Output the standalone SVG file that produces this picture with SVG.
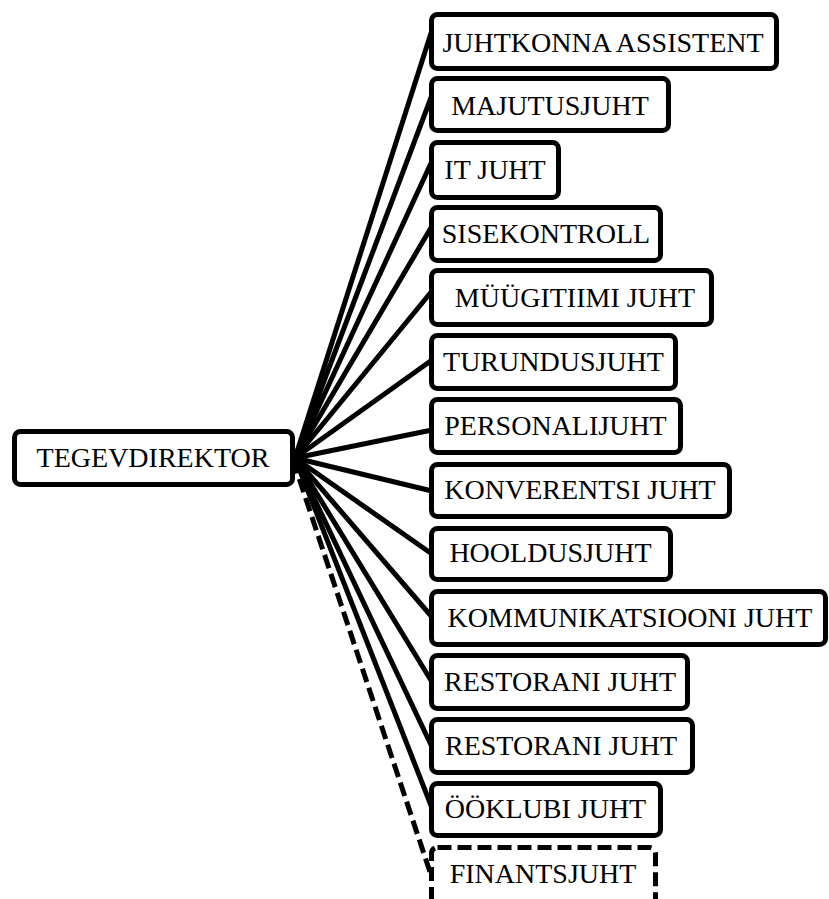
<svg xmlns="http://www.w3.org/2000/svg" width="829" height="899" viewBox="0 0 829 899">
  <style>
    .box { fill: #fff; stroke: #000; stroke-width: 5; }
    .dashed { stroke-dasharray: 14 6; }
    .lbl { font-family: "Liberation Serif", "Times New Roman", serif; font-size: 28px; fill: #000; text-anchor: middle; }
    .link { stroke: #000; stroke-width: 5; fill: none; stroke-linecap: butt; }
  </style>
  <rect width="829" height="899" fill="#fff"/>

  <!-- connectors fanning out from the director -->
  <g id="connectors">
    <line class="link" x1="295" y1="458" x2="432" y2="30"/>
    <line class="link" x1="295" y1="458" x2="432" y2="95"/>
    <line class="link" x1="295" y1="458" x2="432" y2="161"/>
    <line class="link" x1="295" y1="458" x2="432" y2="226"/>
    <line class="link" x1="295" y1="458" x2="432" y2="291"/>
    <line class="link" x1="295" y1="458" x2="432" y2="360"/>
    <line class="link" x1="295" y1="458" x2="432" y2="430"/>
    <line class="link" x1="295" y1="458" x2="432" y2="491"/>
    <line class="link" x1="295" y1="458" x2="432" y2="554"/>
    <line class="link" x1="295" y1="458" x2="432" y2="617"/>
    <line class="link" x1="295" y1="458" x2="432" y2="682"/>
    <line class="link" x1="295" y1="458" x2="432" y2="747"/>
    <line class="link" x1="295" y1="458" x2="432" y2="808"/>
    <line class="link dashed" x1="293" y1="460" x2="430" y2="872"/>
  </g>

  <g id="tegevdirektor">
    <rect class="box" x="14.5" y="431.5" width="278" height="53" rx="6"/>
    <text class="lbl" x="153" y="467">TEGEVDIREKTOR</text>
  </g>

  <g id="juhtkonna-assistent">
    <rect class="box" x="431.5" y="14.5" width="345" height="54" rx="6"/>
    <text class="lbl" x="603" y="52">JUHTKONNA ASSISTENT</text>
  </g>
  <g id="majutusjuht">
    <rect class="box" x="431.5" y="78.5" width="237" height="52" rx="6"/>
    <text class="lbl" x="550" y="115">MAJUTUSJUHT</text>
  </g>
  <g id="it-juht">
    <rect class="box" x="431.5" y="142.5" width="127" height="55" rx="6"/>
    <text class="lbl" x="495" y="179">IT JUHT</text>
  </g>
  <g id="sisekontroll">
    <rect class="box" x="431.5" y="207.5" width="229" height="53" rx="6"/>
    <text class="lbl" x="546" y="243">SISEKONTROLL</text>
  </g>
  <g id="myygitiimi-juht">
    <rect class="box" x="431.5" y="270.5" width="280" height="54" rx="6"/>
    <text class="lbl" x="575" y="307">MÜÜGITIIMI JUHT</text>
  </g>
  <g id="turundusjuht">
    <rect class="box" x="431.5" y="335.5" width="244" height="53" rx="6"/>
    <text class="lbl" x="553.5" y="371">TURUNDUSJUHT</text>
  </g>
  <g id="personalijuht">
    <rect class="box" x="431.5" y="399.5" width="249" height="53" rx="6"/>
    <text class="lbl" x="555.5" y="435">PERSONALIJUHT</text>
  </g>
  <g id="konverentsi-juht">
    <rect class="box" x="431.5" y="464.5" width="298" height="52" rx="6"/>
    <text class="lbl" x="580" y="499">KONVERENTSI JUHT</text>
  </g>
  <g id="hooldusjuht">
    <rect class="box" x="431.5" y="528.5" width="239" height="51" rx="6"/>
    <text class="lbl" x="550.5" y="562">HOOLDUSJUHT</text>
  </g>
  <g id="kommunikatsiooni-juht">
    <rect class="box" x="431.5" y="591.5" width="394" height="53" rx="6"/>
    <text class="lbl" x="630" y="627">KOMMUNIKATSIOONI JUHT</text>
  </g>
  <g id="restorani-juht-1">
    <rect class="box" x="431.5" y="655.5" width="256" height="53" rx="6"/>
    <text class="lbl" x="560" y="691">RESTORANI JUHT</text>
  </g>
  <g id="restorani-juht-2">
    <rect class="box" x="431.5" y="719.5" width="261" height="53" rx="6"/>
    <text class="lbl" x="561" y="755">RESTORANI JUHT</text>
  </g>
  <g id="ooklubi-juht">
    <rect class="box" x="431.5" y="783.5" width="229" height="52" rx="6"/>
    <text class="lbl" x="545.5" y="818">ÖÖKLUBI JUHT</text>
  </g>
  <g id="finantsjuht">
    <rect class="box dashed" x="431.5" y="847.5" width="224" height="60" rx="6"/>
    <text class="lbl" x="543" y="883">FINANTSJUHT</text>
  </g>
</svg>
